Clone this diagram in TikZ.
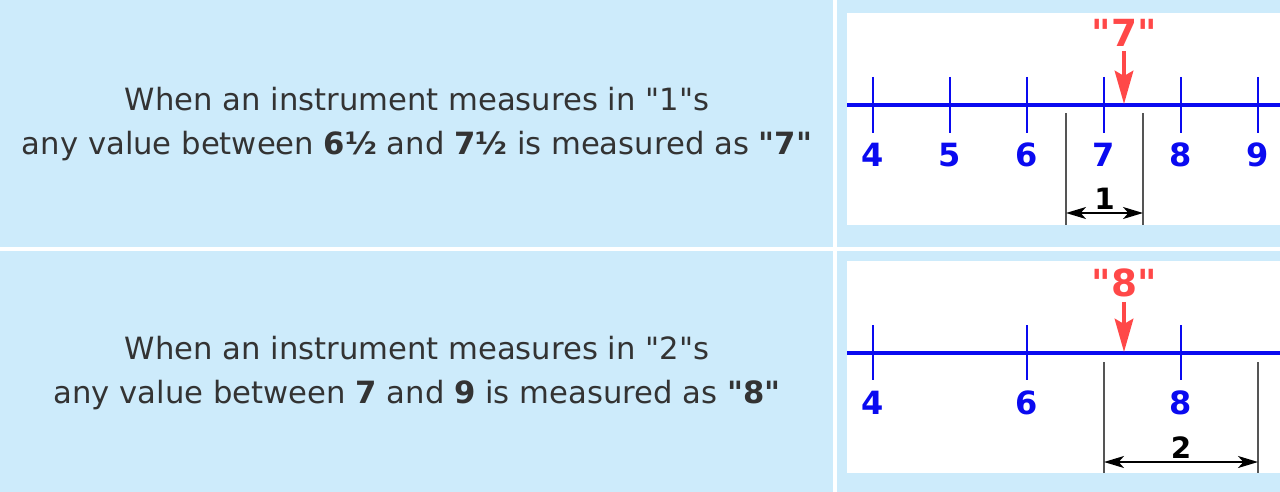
\documentclass[tikz,border=0pt]{standalone}
\usepackage{fontspec}
\setmainfont{DejaVu Sans}
\newfontfamily\plainfont{DejaVu Sans}
\usetikzlibrary{arrows.meta}
\definecolor{panelblue}{HTML}{CDEBFB}
\definecolor{scaleblue}{HTML}{0A0AF0}
\definecolor{markred}{HTML}{FF4848}
\definecolor{dimgray}{HTML}{555555}
\newcommand{\qt}{{\plainfont\symbol{34}}}
\tikzset{
  axis/.style={scaleblue,line width=2.6pt},
  tick/.style={scaleblue,line width=1.6pt},
  ticklabel/.style={text=scaleblue,font=\fontsize{24}{24}\selectfont\bfseries},
  readout/.style={text=markred,font=\fontsize{28}{28}\selectfont\bfseries},
  readarrow/.style={markred,line width=2.4pt,-{Stealth[length=25pt,width=14pt,inset=4pt]}},
  extline/.style={dimgray,line width=0.9pt},
  dimarrow/.style={black,line width=1.3pt,{Stealth[length=15pt,width=9pt,inset=4pt]}-{Stealth[length=15pt,width=9pt,inset=4pt]}},
  dimlabel/.style={font=\fontsize{22}{22}\selectfont\bfseries},
  caption/.style={align=center,text=black!80,font=\fontsize{23}{33}\selectfont}
}
\begin{document}
\begin{tikzpicture}[x=0.75pt,y=-0.75pt]
\useasboundingbox (0,0) rectangle (1280,492);
% panels
\fill[panelblue] (0,0) rectangle (1280,492);
\fill[white] (833,0) rectangle (837,492);
\fill[white] (0,247) rectangle (1280,251);
\fill[white] (847,13) rectangle (1280,225);
\fill[white] (847,261) rectangle (1280,473);

% captions
\node[caption] (cap1) at (417,124) {When an instrument measures in \qt1\qt s\\
  any value between \textbf{6½} and \textbf{7½} is measured as \textbf{\qt7\qt}};
\node[caption] (cap2) at (417,373) {When an instrument measures in \qt2\qt s\\
  any value between \textbf{7} and \textbf{9} is measured as \textbf{\qt8\qt}};

% scale in ones
\draw[axis] (847,105) -- (1280,105);
\foreach \v in {4,...,9} {
  \draw[tick] ({873+(\v-4)*77},77) -- ({873+(\v-4)*77},133);
  \node[ticklabel] (a\v) at ({873+(\v-4)*77},155) {\v};
}
\node[readout] (mark7) at (1124,33) {\qt7\qt};
\coordinate (hit7) at (1124,104);
\draw[readarrow] (mark7.south) -- (hit7);
\coordinate (lo7) at (1066,113);
\coordinate (hi7) at (1143,113);
\draw[extline] (lo7) -- ++(0,112);
\draw[extline] (hi7) -- ++(0,112);
\draw[dimarrow] ([yshift=-75pt]lo7) -- ([yshift=-75pt]hi7)
  node[dimlabel,midway,above=-1pt] (w1) {1};

% scale in twos
\draw[axis] (847,353) -- (1280,353);
\foreach \v in {4,6,8} {
  \draw[tick] ({873+(\v-4)*77},325) -- ({873+(\v-4)*77},380);
  \node[ticklabel] (b\v) at ({873+(\v-4)*77},403) {\v};
}
\node[readout] (mark8) at (1124,283) {\qt8\qt};
\coordinate (hit8) at (1124,352);
\draw[readarrow] (mark8.south) -- (hit8);
\coordinate (lo8) at (1104,362);
\coordinate (hi8) at (1258,362);
\draw[extline] (lo8) -- ++(0,111);
\draw[extline] (hi8) -- ++(0,111);
\draw[dimarrow] ([yshift=-75pt]lo8) -- ([yshift=-75pt]hi8)
  node[dimlabel,midway,above=-1pt] (w2) {2};
\end{tikzpicture}
\end{document}
